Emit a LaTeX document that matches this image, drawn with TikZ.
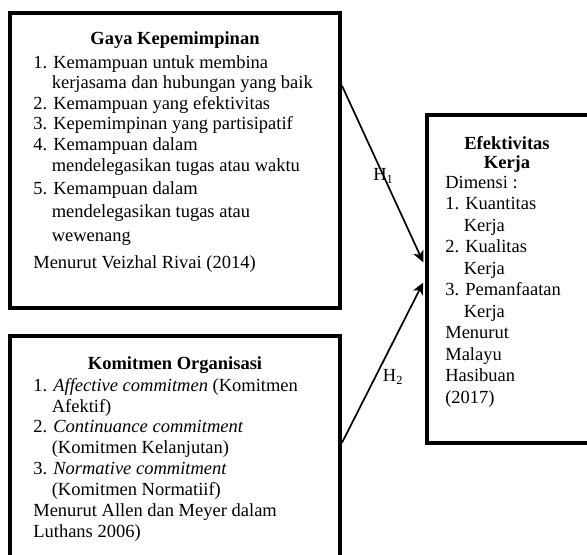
\documentclass[tikz,border=0pt]{standalone}
\usepackage{fontspec}
\setmainfont{Liberation Serif}
\usetikzlibrary{arrows.meta,fit,calc}

\tikzset{
  varbox/.style={draw, line width=2.6pt, inner sep=0pt},
  boxtitle/.style={inner sep=0pt, align=center, font=\fontsize{12}{12.6}\selectfont\bfseries},
  boxlist/.style={anchor=north west, inner sep=0pt, align=left, font=\fontsize{12}{#1}\selectfont},
  hyp/.style={line width=1.1pt, -{Stealth[length=7.5pt,width=7pt,inset=2pt]}, shorten >=2.6pt},
}
\newcommand{\hang}{\hphantom{1.\ }}

\begin{document}
\begin{tikzpicture}[x=0.6486pt, y=0.6486pt]
  \useasboundingbox (0,0) rectangle (587,-555);
  \clip (0,0) rectangle (587,-555);

  % kotak variabel
  \node[varbox, fit={(10,-13) (340,-308)}] (gaya) {};
  \node[varbox, fit={(10,-336) (340,-570)}] (komit) {};
  \node[varbox, fit={(427,-115) (610,-443)}] (efek) {};

  % Gaya Kepemimpinan
  \node[boxtitle, anchor=base] (gayajudul) at (175,-45) {Gaya Kepemimpinan};
  \node[boxlist=13.3pt] (gayaisi) at (33,-55) {%
    1. Kemampuan untuk membina\\
    \hang kerjasama dan hubungan yang baik\\
    2. Kemampuan yang efektivitas\\
    3. Kepemimpinan yang partisipatif\\
    4. Kemampuan dalam\\[0.6pt]
    \hang mendelegasikan tugas atau waktu\\[1.3pt]
    5. Kemampuan dalam\\[2pt]
    \hang mendelegasikan tugas atau\\[2pt]
    \hang wewenang\\[4.5pt]
    Menurut Veizhal Rivai (2014)};

  % Komitmen Organisasi
  \node[boxtitle, anchor=base] (komitjudul) at (175,-369) {Komitmen Organisasi};
  \node[boxlist=13.5pt] (komitisi) at (33,-378) {%
    1. \textit{Affective commitmen} (Komitmen\\
    \hang Afektif)\\
    2. \textit{Continuance commitment}\\
    \hang (Komitmen Kelanjutan)\\
    3. \textit{Normative commitment}\\
    \hang (Komitmen Normatiif)\\
    Menurut Allen dan Meyer dalam\\
    Luthans 2006)};

  % Efektivitas Kerja
  \node[boxtitle, anchor=north] (efekjudul) at (507,-136) {Efektivitas\\Kerja};
  \node[boxlist=13.95pt] (efekisi) at (445,-175.5) {%
    Dimensi :\\
    1. Kuantitas\\
    \hang Kerja\\
    2. Kualitas\\
    \hang Kerja\\
    3. Pemanfaatan\\
    \hang Kerja\\
    Menurut\\
    Malayu\\
    Hasibuan\\
    (2017)};

  % hipotesis
  \draw[hyp] ($(gaya.north east)!0.25!(gaya.south east)$) -- ($(efek.west)+(0,13)$)
    node[pos=0.5, inner sep=0pt, font=\fontsize{12}{13}\selectfont] (h1) {H\textsubscript{1}};
  \draw[hyp] ($(komit.north east)!0.457!(komit.south east)$) -- (efek.west)
    node[pos=0.4, anchor=west, xshift=4.5pt, inner sep=0pt, font=\fontsize{12}{13}\selectfont] (h2) {H\textsubscript{2}};
\end{tikzpicture}
\end{document}
